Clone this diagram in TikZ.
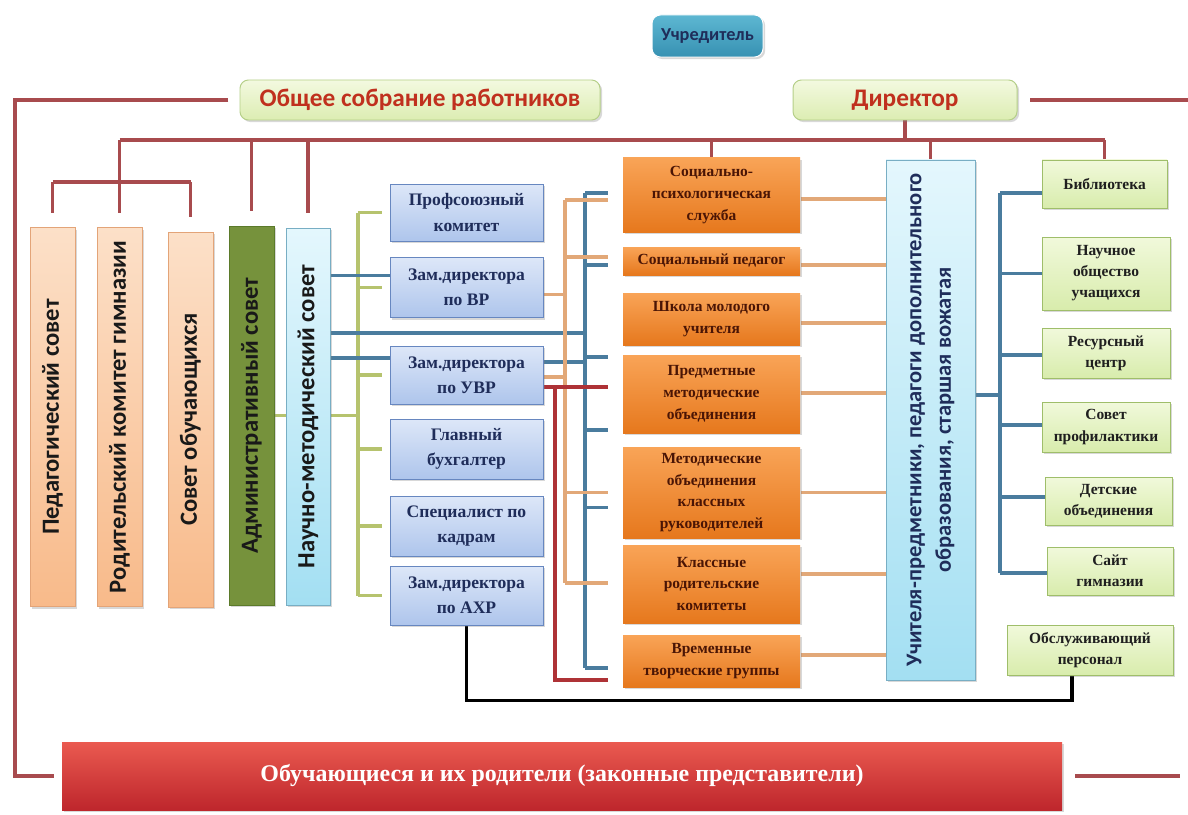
\documentclass[tikz,border=0pt]{standalone}
\usepackage{fontspec}
\setmainfont{Liberation Serif}
\newfontfamily\calibfont{Carlito}
\usetikzlibrary{calc,backgrounds,shadows}

\definecolor{linered}{HTML}{A84B4E}
\definecolor{linegreen}{HTML}{B6C36E}
\definecolor{lineblue}{HTML}{4A7C9E}
\definecolor{linetan}{HTML}{E2A878}
\definecolor{linedark}{HTML}{AE3236}
\definecolor{titlered}{HTML}{C0301E}
\definecolor{navytext}{HTML}{1F2D5A}
\definecolor{browntext}{HTML}{4A1505}
\definecolor{founderA}{HTML}{5DB7D2}
\definecolor{founderB}{HTML}{3791B2}
\definecolor{limetop}{HTML}{F3F9E0}
\definecolor{limebot}{HTML}{DCEDB2}
\definecolor{limeedge}{HTML}{B5CF88}
\definecolor{peachtop}{HTML}{FCE0C8}
\definecolor{peachbot}{HTML}{F8BA8A}
\definecolor{peachedge}{HTML}{E3A478}
\definecolor{admfill}{HTML}{76923C}
\definecolor{admedge}{HTML}{5B7A2A}
\definecolor{cyantop}{HTML}{E4F7FD}
\definecolor{cyanbot}{HTML}{A3DFF2}
\definecolor{cyanedge}{HTML}{78AEC4}
\definecolor{stafftop}{HTML}{DDE7F8}
\definecolor{staffbot}{HTML}{AEC5EC}
\definecolor{staffedge}{HTML}{6787C0}
\definecolor{unittop}{HTML}{F9A457}
\definecolor{unitbot}{HTML}{E6781D}
\definecolor{clubtop}{HTML}{F1F9DB}
\definecolor{clubbot}{HTML}{D8ECAC}
\definecolor{clubedge}{HTML}{9FBE6A}
\definecolor{lowtop}{HTML}{EA5A50}
\definecolor{lowbot}{HTML}{BE262C}

\begin{document}
\begin{tikzpicture}[x=0.025cm, y=-0.025cm,
    wh/.style 2 args={minimum width=#1*0.025cm, minimum height=#2*0.025cm},
    panel/.style={draw, line width=0.7pt, inner sep=1pt, align=center,
      drop shadow={opacity=0.3, shadow xshift=1.5pt, shadow yshift=-1.5pt}},
    founderbox/.style={panel, rounded corners=6pt, draw=white, top color=founderA, bottom color=founderB,
      text=navytext, font=\calibfont\bfseries\fontsize{13}{15}\selectfont},
    titlebox/.style={panel, rounded corners=6pt, draw=limeedge, top color=limetop, bottom color=limebot,
      text=titlered, font=\calibfont\bfseries\fontsize{18}{20}\selectfont},
    sidebox/.style={panel, rotate=90, text=black!90, font=\calibfont\bfseries\fontsize{17.5}{20}\selectfont},
    peachbox/.style={sidebox, draw=peachedge, top color=peachtop, bottom color=peachbot},
    staffbox/.style={panel, wh={153}{#1}, draw=staffedge, top color=stafftop, bottom color=staffbot,
      text=navytext, font=\bfseries\fontsize{12.5}{18}\selectfont},
    unitbox/.style={panel, wh={177}{#1}, draw=none, top color=unittop, bottom color=unitbot,
      text=browntext, font=\bfseries\fontsize{11}{15.5}\selectfont},
    clubbox/.style={panel, draw=clubedge, top color=clubtop, bottom color=clubbot,
      text=black!88, font=\bfseries\fontsize{11}{15}\selectfont},
    busline/.style={line width=2.2pt, linered},
    greenline/.style={line width=2.2pt, linegreen},
    blueline/.style={line width=2.2pt, lineblue},
    tanline/.style={line width=2.2pt, linetan},
    darkline/.style={line width=2.2pt, linedark},
    blackline/.style={line width=2.2pt, black}]

      \useasboundingbox (0,0) rectangle (1188,814);

      \node[founderbox, wh={111}{42}] (uchr) at (707.5,36) {Учредитель};
      \node[titlebox, wh={360}{40}] (sobr) at (420,100) {Общее собрание работников};
      \node[titlebox, wh={224}{40}] (dir) at (905,100) {Директор};

      \node[peachbox, wh={379}{45}] (ped) at (52.5,417) {Педагогический совет};
      \node[peachbox, wh={379}{45}] (rod) at (119.5,417) {Родительский комитет гимназии};
      \node[peachbox, wh={375}{45}] (sov) at (190.5,419.5) {Совет обучающихся};
      \node[sidebox, wh={379}{45}, draw=admedge, fill=admfill] (adm) at (251.5,415.5) {Административный совет};
      \node[sidebox, wh={377}{44}, draw=cyanedge, top color=cyantop, bottom color=cyanbot] (nms) at (308,416.5) {Научно-методический совет};

      \node[staffbox=57] (prof) at (466.5,212.5) {Профсоюзный\\комитет};
      \node[staffbox=60] (zvr) at (466.5,287.5) {Зам.директора\\по ВР};
      \node[staffbox=58] (zuvr) at (466.5,375) {Зам.директора\\по УВР};
      \node[staffbox=60] (buh) at (466.5,449) {Главный\\бухгалтер};
      \node[staffbox=60] (kadr) at (466.5,526) {Специалист по\\кадрам};
      \node[staffbox=59] (ahr) at (466.5,595.5) {Зам.директора\\по АХР};

      \node[unitbox=74] (sp) at (711.5,195) {Социально-\\психологическая\\служба};
      \node[unitbox=28] (spd) at (711.5,261) {Социальный педагог};
      \node[unitbox=52] (shk) at (711.5,319) {Школа молодого\\учителя};
      \node[unitbox=78] (pmo) at (711.5,394) {Предметные\\методические\\объединения};
      \node[unitbox=91] (mok) at (711.5,492.5) {Методические\\объединения\\классных\\руководителей};
      \node[unitbox=78] (krk) at (711.5,584) {Классные\\родительские\\комитеты};
      \node[unitbox=52] (vtg) at (711.5,661) {Временные\\творческие группы};

      \node[sidebox, wh={520}{89}, draw=cyanedge, top color=cyantop, bottom color=cyanbot, text=navytext,
        font=\calibfont\bfseries\fontsize{16}{21}\selectfont] (uch) at (930.5,420)
        {Учителя-предметники, педагоги дополнительного\\образования, старшая вожатая};

      \node[clubbox, wh={125}{48}] (lib) at (1104.5,184) {Библиотека};
      \node[clubbox, wh={128}{73}] (nou) at (1106,273.5) {Научное\\общество\\учащихся};
      \node[clubbox, wh={128}{50}] (res) at (1106,353) {Ресурсный\\центр};
      \node[clubbox, wh={128}{50}] (prf) at (1106,427) {Совет\\профилактики};
      \node[clubbox, wh={127}{48}] (det) at (1108.5,501) {Детские\\объединения};
      \node[clubbox, wh={126}{48}] (sgm) at (1110,571) {Сайт\\гимназии};
      \node[clubbox, wh={166}{50}] (obs) at (1090,650) {Обслуживающий\\персонал};

      \node[panel, wh={1000}{68}, draw=none, top color=lowtop, bottom color=lowbot, text=white,
        font=\bfseries\fontsize{17}{20}\selectfont] (low) at (562,776)
        {Обучающиеся и их родители (законные представители)};

      \begin{scope}[on background layer]
        \fill[white] (0,0) rectangle (1188,814);

        \coordinate (bus) at (0,140);
        \coordinate (sub) at (0,182);
        \draw[busline] (dir.south) -- (dir.south |- bus);
        \draw[busline] (rod.east |- bus) -- (lib.north |- bus);
        \draw[busline] (ped.east |- sub) -- (sov.east |- sub);
        \foreach \n in {ped,sov}
          \draw[busline, shorten >=10pt] (\n.east |- sub) -- (\n.east);
        \foreach \n in {rod,adm,nms}
          \draw[busline, shorten >=10pt] (\n.east |- bus) -- (\n.east);
        \foreach \n in {sp,lib}
          \draw[busline] (\n.north |- bus) -- (\n.north);
        \draw[busline] (uch.east |- bus) -- (uch.east);

        \coordinate (lft) at (15,0);
        \coordinate (rgt) at (1188,0);
        \coordinate (rgt2) at (1180,0);
        \draw[busline, shorten <=8pt, shorten >=5pt] (sobr.west) -| (lft |- low.west) -- (low.west);
        \draw[busline, shorten <=9pt] (dir.east) -- (dir.east -| rgt);
        \draw[busline, shorten <=9pt] (low.east) -- (low.east -| rgt2);

        \coordinate (g) at (358,0);
        \draw[greenline] (prof.west -| g) -- (ahr.west -| g);
        \foreach \n in {prof,zvr,zuvr,buh,kadr,ahr}
          \draw[greenline, shorten >=5pt] (\n.west -| g) -- (\n.west);
        \draw[greenline] (adm.south) -- (adm.south -| g);

        \coordinate (bb) at (585,0);
        \coordinate (n1) at ($(zvr.west)+(0,-12)$);
        \coordinate (n2) at (585,333);
        \coordinate (n3) at ($(zuvr.west)+(0,-17)$);
        \coordinate (n4) at ($(zuvr.east)+(0,-13)$);
        \draw[blueline] (n1 -| nms.south) -- (n1);
        \draw[blueline] (n2 -| nms.south) -- (n2);
        \draw[blueline] (n3 -| nms.south) -- (n3);
        \draw[blueline] (n4) -- (n4 -| bb);
        \draw[blueline] ($(sp.west -| bb)+(0,-2)$) -- ($(vtg.west -| bb)+(0,7)$);
        \foreach \n/\d in {sp/-2,spd/4,pmo/-37,pmo/36,mok/15,vtg/7} {
          \coordinate (s) at ($(\n.west)+(0,\d)$);
          \draw[blueline, shorten >=10pt] (s -| bb) -- (s);
        }

        \coordinate (tb) at (565,0);
        \coordinate (t1) at ($(zvr.east)+(0,7)$);
        \coordinate (t2) at ($(zuvr.east)+(0,2)$);
        \draw[tanline] (t1) -- (t1 -| tb);
        \draw[tanline] (t2) -- (t2 -| tb);
        \draw[tanline] ($(sp.west -| tb)+(0,5)$) -- ($(krk.west -| tb)+(0,-1)$);
        \foreach \n/\d in {sp/5,spd/-4,mok/0,krk/-1} {
          \coordinate (s) at ($(\n.west)+(0,\d)$);
          \draw[tanline, shorten >=10pt] (s -| tb) -- (s);
        }
        \foreach \n/\d in {sp/4,spd/4,shk/4,pmo/-1,mok/0,krk/-10,vtg/-6} {
          \coordinate (s) at ($(\n.east)+(0,\d)$);
          \draw[tanline] (s) -- (s -| uch.north);
        }

        \coordinate (rb) at (555,0);
        \coordinate (r1) at ($(zuvr.east)+(0,12)$);
        \coordinate (r2) at ($(vtg.west)+(0,19)$);
        \draw[darkline, shorten >=10pt] (r1) -- (r1 -| pmo.west);
        \draw[darkline, shorten >=10pt] (r1 -| rb) |- (r2);

        \coordinate (rb2) at (1000,0);
        \coordinate (u1) at (1000,395);
        \draw[blueline] (u1 -| uch.south) -- (u1);
        \draw[blueline] ($(lib.west -| rb2)+(0,9)$) -- ($(sgm.west -| rb2)+(0,2)$);
        \foreach \n/\d in {lib/9,nou/0,res/2,prf/-2,det/-4,sgm/2} {
          \coordinate (s) at ($(\n.west)+(0,\d)$);
          \draw[blueline] (s -| rb2) -- (s);
        }

        \coordinate (k) at ($(obs.south)+(-18,0)$);
        \draw[blackline] (ahr.south) -- ++(0,75) -| (k);
      \end{scope}
    \end{tikzpicture}
\end{document}
